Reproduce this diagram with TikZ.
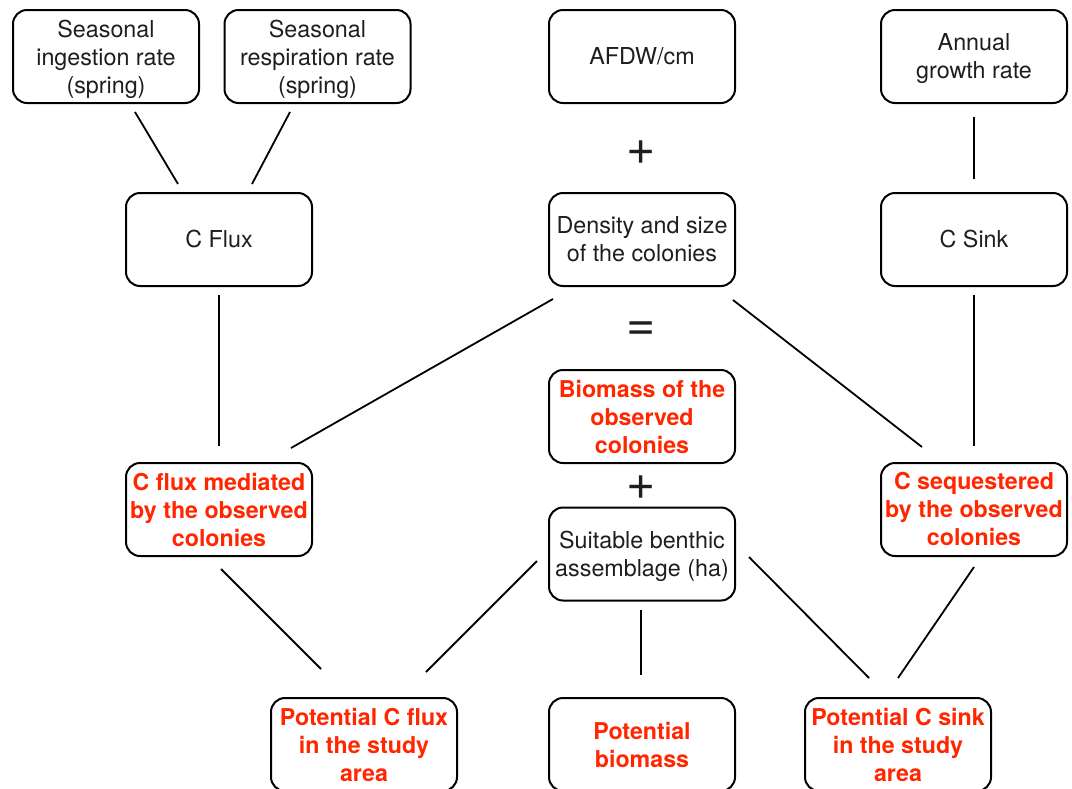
\documentclass[tikz,border=0pt]{standalone}
\usepackage{fontspec}
\setmainfont{TeX Gyre Heros}
\usetikzlibrary{calc}
\definecolor{hired}{RGB}{255,38,0}
\definecolor{txt}{RGB}{30,30,30}
\tikzset{
  box/.style={draw=black, line width=2pt, rounded corners=14pt, minimum width=186pt, minimum height=93pt, align=center, inner sep=0pt, text=txt, font=\fontsize{23.3}{28}\selectfont},
  redbox/.style={box, text=hired, font=\fontsize{23.2}{28}\selectfont\bfseries},
  conn/.style={line width=1.8pt},
  sym/.style={text=txt, font=\fontsize{50}{50}\selectfont, inner sep=0pt}
}
\begin{document}
\begin{tikzpicture}[x=1pt,y=-1pt]
\useasboundingbox (0,0) rectangle (1072,788);
\clip (0,0) rectangle (1072,788);
\fill[white] (0,0) rectangle (1072,788);
% top row
\node[box] (ing) at (106,56.5) {Seasonal\\ingestion rate\\\smash{(spring)}};
\node[box] (resp) at (317.5,56.5) {Seasonal\\respiration rate\\\smash{(spring)}};
\node[box] (afdw) at (642,56.5) {AFDW/cm};
\node[box] (annual) at (974,56.5) {Annual\\\smash{growth rate}};
% second row
\node[box] (cflux) at (219,239.5) {C Flux};
\node[box] (dens) at (642,239.5) {Density and size\\of the colonies};
\node[box] (csink) at (974,239.5) {C Sink};
% middle
\node[redbox] (biom) at (642,416.5) {Biomass of the\\observed\\colonies};
\node[redbox] (cfm) at (219,509.5) {C flux mediated\\by the observed\\colonies};
\node[box] (suit) at (642,554) {Suitable benthic\\\smash{assemblage (ha)}};
\node[redbox] (cseq) at (974,509.5) {C sequestered\\by the observed\\colonies};
% bottom
\node[redbox] (pcf) at (364,744.5) {Potential C flux\\in the study\\area};
\node[redbox] (pbio) at (642,744.5) {Potential\\biomass};
\node[redbox] (pcs) at (898,744.5) {Potential C sink\\in the study\\area};
% symbols
\node[sym] (plus1) at (641,153) {+};
\node[sym] (eq) at (641,331) {=};
\node[sym] (plus2) at (641,488) {+};
% connectors
\draw[conn] ($(ing.south)+(29,8)$) -- ($(cflux.north)+(-41,-8)$);
\draw[conn] ($(resp.south)+(-27.5,8)$) -- ($(cflux.north)+(33,-8)$);
\draw[conn] ($(cflux.south)+(0,8)$) -- ($(cfm.north)+(0,-16)$);
\draw[conn] ($(dens.south)+(-89,12)$) -- ($(cfm.north)+(72,-14)$);
\draw[conn] ($(dens.south)+(91,13)$) -- ($(cseq.north)+(-52,-15)$);
\draw[conn] ($(annual.south)+(0,13)$) -- ($(csink.north)+(0,-13)$);
\draw[conn] ($(csink.south)+(0,8)$) -- ($(cseq.north)+(0,-16)$);
\draw[conn] ($(cfm.south)+(2,12)$) -- ($(pcf.north)+(-43,-28)$);
\draw[conn] ($(suit.west)+(-11,7)$) -- ($(pcf.north)+(62,-25)$);
\draw[conn] ($(suit.south)+(-1,8)$) -- ($(pbio.north)+(-1,-22)$);
\draw[conn] ($(suit.east)+(13,3)$) -- ($(pcs.north)+(-29,-19)$);
\draw[conn] ($(cseq.south)+(0,10)$) -- ($(pcs.north)+(0,-19)$);
\end{tikzpicture}
\end{document}
